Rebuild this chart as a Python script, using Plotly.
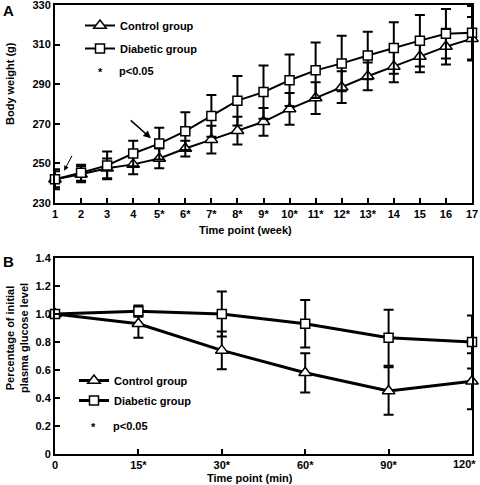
import plotly.graph_objects as go

# ---------------- data ----------------
weeks = list(range(1, 18))
week_labels = ["1", "2", "3", "4", "5*", "6*", "7*", "8*", "9*", "10*", "11*",
               "12*", "13*", "14", "15", "16", "17"]
control_bw = [242, 244.5, 247.5, 249.5, 252.5, 257.5, 262, 266.5, 271, 277.5,
              283, 288.5, 294, 299, 304, 309, 313]
control_bw_sd = [4, 4, 5, 5, 5, 4, 7, 7, 7, 8, 8, 8, 7, 8, 8, 9, 11]
diabetic_bw = [242, 245.3, 249, 255, 260, 266.3, 274, 281.7, 286, 292, 297,
               300.5, 304.5, 308.3, 312, 315.5, 316]
diabetic_bw_sd = [5, 4, 7, 6.5, 8, 9.5, 10.5, 12.5, 13.5, 13, 14, 14, 12, 13,
                  13, 12.5, 13.5]

time_labels = ["0", "15*", "30*", "60*", "90*", "120*"]
control_glu = [1.0, 0.93, 0.74, 0.58, 0.45, 0.52]
control_glu_sd = [0, 0.10, 0.135, 0.14, 0.17, 0.20]
diabetic_glu = [1.0, 1.02, 1.0, 0.93, 0.83, 0.80]
diabetic_glu_sd = [0, 0.04, 0.16, 0.17, 0.20, 0.19]

bw_ticks = [230, 250, 270, 290, 310, 330]
glu_ticks = [0, 0.2, 0.4, 0.6, 0.8, 1.0, 1.2, 1.4]
glu_ticktext = ["0", "0.2", "0.4", "0.6", "0.8", "1.0", "1.2", "1.4"]

# ---------------- layout helpers ----------------
W, H = 480, 485
ML, MR, MT, MB = 55, 8, 5, 31
PW, PH = W - ML - MR, H - MT - MB
def xp(px):
    return (px - ML) / PW
def yp(py):
    return (H - MB - py) / PH

FONT = "Liberation Sans, Arial, sans-serif"
BLACK = "black"
FS = 11

fig = go.Figure()

def add_series(x, y, sd, name, symbol, size, lw, xa, ya, legend):
    fig.add_trace(go.Scatter(
        x=x, y=y, name=name, mode="lines+markers",
        xaxis=xa, yaxis=ya, legend=legend, legendgroup=legend + name,
        line=dict(color=BLACK, width=lw),
        marker=dict(symbol=symbol, size=size, color="white",
                    line=dict(color=BLACK, width=1.5)),
        error_y=dict(type="data", array=sd, visible=True, color=BLACK,
                     thickness=2, width=5),
        cliponaxis=False,
    ))

add_series(weeks, control_bw, control_bw_sd, "Control group", "triangle-up", 11, 2, "x", "y", "legend")
add_series(weeks, diabetic_bw, diabetic_bw_sd, "Diabetic group", "square", 9, 2, "x", "y", "legend")
add_series(time_labels, control_glu, control_glu_sd, "Control group", "triangle-up", 11, 3, "x2", "y2", "legend2")
add_series(time_labels, diabetic_glu, diabetic_glu_sd, "Diabetic group", "square", 9, 3, "x2", "y2", "legend2")

axis_common = dict(showline=True, mirror=True, linecolor=BLACK, linewidth=2,
                   ticks="inside", ticklen=5, tickcolor=BLACK, tickwidth=1.5,
                   showgrid=False, zeroline=False, automargin=False,
                   ticklabeloverflow="allow",
                   tickfont=dict(family=FONT, size=FS, color=BLACK, weight="bold"))

top_dom = [yp(203), yp(5)]
bot_dom = [yp(454), yp(258)]

# last time label is drawn separately (shifted left so it stays inside the page)
time_ticktext = time_labels[:-1] + [""]

legend_font = dict(family=FONT, size=FS, color=BLACK, weight="bold")
fig.update_layout(
    width=W, height=H,
    margin=dict(l=ML, r=MR, t=MT, b=MB, autoexpand=False),
    paper_bgcolor="white", plot_bgcolor="white",
    font=dict(family=FONT, color=BLACK),
    xaxis=dict(domain=[0, 1], anchor="y", range=[1, 17], tickvals=weeks,
               ticktext=week_labels, **axis_common),
    yaxis=dict(domain=top_dom, anchor="x", range=[230, 330], tickvals=bw_ticks,
               **axis_common),
    xaxis2=dict(domain=[0, 1], anchor="y2", type="category",
                categoryarray=time_labels, range=[0, 5],
                tickvals=time_labels, ticktext=time_ticktext, **axis_common),
    yaxis2=dict(domain=bot_dom, anchor="x2", range=[0, 1.4], tickvals=glu_ticks,
                ticktext=glu_ticktext, **axis_common),
    legend=dict(x=xp(80), y=yp(11), xanchor="left", yanchor="top",
                bgcolor="rgba(0,0,0,0)", traceorder="grouped", tracegroupgap=4,
                font=legend_font),
    legend2=dict(x=xp(74), y=yp(366), xanchor="left", yanchor="top",
                 bgcolor="rgba(0,0,0,0)", traceorder="grouped", tracegroupgap=1,
                 font=legend_font),
    showlegend=True,
)

def txt(text, px, py, size=FS, angle=0, xanchor="center"):
    fig.add_annotation(text=text, x=xp(px), y=yp(py), xref="paper", yref="paper",
                       showarrow=False, textangle=angle, xanchor=xanchor,
                       yanchor="middle",
                       font=dict(family=FONT, size=size, color=BLACK, weight="bold"))

txt("A", 8, 10, size=15)
txt("B", 8, 261, size=15)
txt("Body weight (g)", 10, 84, angle=-90)
txt("Time point (week)", 245, 230)
txt("Percentage of initial<br>plasma glucose level", 17, 338, angle=-90)
txt("Time point (min)", 250, 478)
txt("*", 100, 72)
txt("p<0.05", 117, 71, xanchor="left")
txt("*", 93, 427)
txt("p<0.05", 111, 426, xanchor="left")

# last x tick label of panel B, anchored at its category, kept inside the page
fig.add_annotation(text=time_labels[-1], x=time_labels[-1], y=yp(464),
                   xref="x2", yref="paper", showarrow=False, xanchor="right",
                   yanchor="middle", xshift=6,
                   font=dict(family=FONT, size=FS, color=BLACK, weight="bold"))

# arrows (in data coordinates of the top panel)
fig.add_annotation(x=4.68, y=262.7, ax=3.85, ay=272.4, xref="x", yref="y",
                   axref="x", ayref="y", showarrow=True, arrowhead=2,
                   arrowsize=1, arrowwidth=1.5, arrowcolor=BLACK, text="")
fig.add_annotation(x=1.35, y=246.3, ax=1.68, ay=254.6, xref="x", yref="y",
                   axref="x", ayref="y", showarrow=True, arrowhead=2,
                   arrowsize=1, arrowwidth=1, arrowcolor=BLACK, text="")

fig.write_html("out.html", config={"displayModeBar": False})

# remove the default page margin so the figure sits at the window's corner
with open("out.html", encoding="utf-8") as f:
    html = f.read()
html = html.replace("<head>", "<head><style>html,body{margin:0;padding:0;overflow:hidden;}</style>", 1)
with open("out.html", "w", encoding="utf-8") as f:
    f.write(html)
